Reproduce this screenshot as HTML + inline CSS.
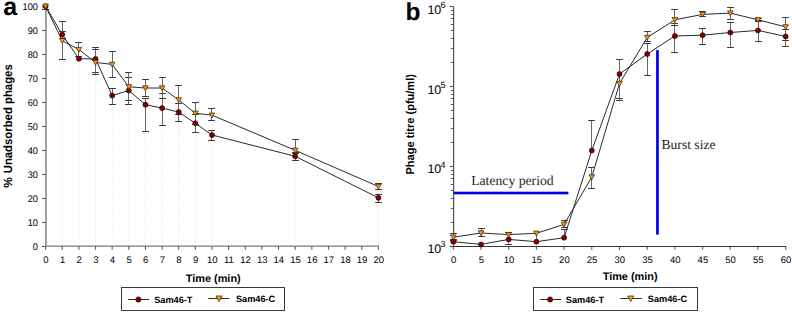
<!DOCTYPE html>
<html><head><meta charset="utf-8"><title>Phage adsorption and one-step growth</title>
<style>
html,body{margin:0;padding:0;background:#fff;}
body{width:792px;height:312px;overflow:hidden;font-family:"Liberation Sans", sans-serif;}
svg{display:block;text-rendering:geometricPrecision;}
</style></head>
<body>
<svg width="792" height="312" viewBox="0 0 792 312">
<rect width="792" height="312" fill="#ffffff"/>
<line x1="62.24" y1="37.6" x2="62.24" y2="246.2" stroke="#d4d4d4" stroke-width="0.8" stroke-dasharray="1,2.2"/>
<line x1="78.88" y1="52.6" x2="78.88" y2="246.2" stroke="#d4d4d4" stroke-width="0.8" stroke-dasharray="1,2.2"/>
<line x1="95.52" y1="61.9" x2="95.52" y2="246.2" stroke="#d4d4d4" stroke-width="0.8" stroke-dasharray="1,2.2"/>
<line x1="112.16" y1="67.4" x2="112.16" y2="246.2" stroke="#d4d4d4" stroke-width="0.8" stroke-dasharray="1,2.2"/>
<line x1="128.8" y1="89.8" x2="128.8" y2="246.2" stroke="#d4d4d4" stroke-width="0.8" stroke-dasharray="1,2.2"/>
<line x1="145.44" y1="91" x2="145.44" y2="246.2" stroke="#d4d4d4" stroke-width="0.8" stroke-dasharray="1,2.2"/>
<line x1="162.08" y1="91" x2="162.08" y2="246.2" stroke="#d4d4d4" stroke-width="0.8" stroke-dasharray="1,2.2"/>
<line x1="178.72" y1="103" x2="178.72" y2="246.2" stroke="#d4d4d4" stroke-width="0.8" stroke-dasharray="1,2.2"/>
<line x1="195.36" y1="116.3" x2="195.36" y2="246.2" stroke="#d4d4d4" stroke-width="0.8" stroke-dasharray="1,2.2"/>
<line x1="212" y1="118.2" x2="212" y2="246.2" stroke="#d4d4d4" stroke-width="0.8" stroke-dasharray="1,2.2"/>
<line x1="295.2" y1="153.3" x2="295.2" y2="246.2" stroke="#d4d4d4" stroke-width="0.8" stroke-dasharray="1,2.2"/>
<line x1="378.4" y1="189.5" x2="378.4" y2="246.2" stroke="#d4d4d4" stroke-width="0.8" stroke-dasharray="1,2.2"/>
<path d="M45.95,5.9 V246.15 H378.4" stroke="#7a7a7a" stroke-width="1.4" fill="none"/>
<line x1="42" y1="246.5" x2="45.6" y2="246.5" stroke="#5a5a5a" stroke-width="1.1"/>
<line x1="42" y1="222.5" x2="45.6" y2="222.5" stroke="#5a5a5a" stroke-width="1.1"/>
<line x1="42" y1="198.5" x2="45.6" y2="198.5" stroke="#5a5a5a" stroke-width="1.1"/>
<line x1="42" y1="174.5" x2="45.6" y2="174.5" stroke="#5a5a5a" stroke-width="1.1"/>
<line x1="42" y1="150.5" x2="45.6" y2="150.5" stroke="#5a5a5a" stroke-width="1.1"/>
<line x1="42" y1="126.5" x2="45.6" y2="126.5" stroke="#5a5a5a" stroke-width="1.1"/>
<line x1="42" y1="102.5" x2="45.6" y2="102.5" stroke="#5a5a5a" stroke-width="1.1"/>
<line x1="42" y1="78.5" x2="45.6" y2="78.5" stroke="#5a5a5a" stroke-width="1.1"/>
<line x1="42" y1="54.5" x2="45.6" y2="54.5" stroke="#5a5a5a" stroke-width="1.1"/>
<line x1="42" y1="30.5" x2="45.6" y2="30.5" stroke="#5a5a5a" stroke-width="1.1"/>
<line x1="42" y1="6.5" x2="45.6" y2="6.5" stroke="#5a5a5a" stroke-width="1.1"/>
<line x1="45.6" y1="246.2" x2="45.6" y2="249.7" stroke="#5a5a5a" stroke-width="1.1"/>
<line x1="62.24" y1="246.2" x2="62.24" y2="249.7" stroke="#5a5a5a" stroke-width="1.1"/>
<line x1="78.88" y1="246.2" x2="78.88" y2="249.7" stroke="#5a5a5a" stroke-width="1.1"/>
<line x1="95.52" y1="246.2" x2="95.52" y2="249.7" stroke="#5a5a5a" stroke-width="1.1"/>
<line x1="112.16" y1="246.2" x2="112.16" y2="249.7" stroke="#5a5a5a" stroke-width="1.1"/>
<line x1="128.8" y1="246.2" x2="128.8" y2="249.7" stroke="#5a5a5a" stroke-width="1.1"/>
<line x1="145.44" y1="246.2" x2="145.44" y2="249.7" stroke="#5a5a5a" stroke-width="1.1"/>
<line x1="162.08" y1="246.2" x2="162.08" y2="249.7" stroke="#5a5a5a" stroke-width="1.1"/>
<line x1="178.72" y1="246.2" x2="178.72" y2="249.7" stroke="#5a5a5a" stroke-width="1.1"/>
<line x1="195.36" y1="246.2" x2="195.36" y2="249.7" stroke="#5a5a5a" stroke-width="1.1"/>
<line x1="212" y1="246.2" x2="212" y2="249.7" stroke="#5a5a5a" stroke-width="1.1"/>
<line x1="228.64" y1="246.2" x2="228.64" y2="249.7" stroke="#5a5a5a" stroke-width="1.1"/>
<line x1="245.28" y1="246.2" x2="245.28" y2="249.7" stroke="#5a5a5a" stroke-width="1.1"/>
<line x1="261.92" y1="246.2" x2="261.92" y2="249.7" stroke="#5a5a5a" stroke-width="1.1"/>
<line x1="278.56" y1="246.2" x2="278.56" y2="249.7" stroke="#5a5a5a" stroke-width="1.1"/>
<line x1="295.2" y1="246.2" x2="295.2" y2="249.7" stroke="#5a5a5a" stroke-width="1.1"/>
<line x1="311.84" y1="246.2" x2="311.84" y2="249.7" stroke="#5a5a5a" stroke-width="1.1"/>
<line x1="328.48" y1="246.2" x2="328.48" y2="249.7" stroke="#5a5a5a" stroke-width="1.1"/>
<line x1="345.12" y1="246.2" x2="345.12" y2="249.7" stroke="#5a5a5a" stroke-width="1.1"/>
<line x1="361.76" y1="246.2" x2="361.76" y2="249.7" stroke="#5a5a5a" stroke-width="1.1"/>
<line x1="378.4" y1="246.2" x2="378.4" y2="249.7" stroke="#5a5a5a" stroke-width="1.1"/>
<g font-family='"Liberation Sans", sans-serif' font-size="9.2" fill="#000000"><text transform="translate(37.9,249.65) scale(0.95,1)" font-size="9.7" text-anchor="end">0</text>
<text transform="translate(37.9,225.67) scale(0.95,1)" font-size="9.7" text-anchor="end">10</text>
<text transform="translate(37.9,201.69) scale(0.95,1)" font-size="9.7" text-anchor="end">20</text>
<text transform="translate(37.9,177.71) scale(0.95,1)" font-size="9.7" text-anchor="end">30</text>
<text transform="translate(37.9,153.73) scale(0.95,1)" font-size="9.7" text-anchor="end">40</text>
<text transform="translate(37.9,129.75) scale(0.95,1)" font-size="9.7" text-anchor="end">50</text>
<text transform="translate(37.9,105.77) scale(0.95,1)" font-size="9.7" text-anchor="end">60</text>
<text transform="translate(37.9,81.79) scale(0.95,1)" font-size="9.7" text-anchor="end">70</text>
<text transform="translate(37.9,57.81) scale(0.95,1)" font-size="9.7" text-anchor="end">80</text>
<text transform="translate(37.9,33.83) scale(0.95,1)" font-size="9.7" text-anchor="end">90</text>
<text transform="translate(37.9,9.85) scale(0.95,1)" font-size="9.7" text-anchor="end">100</text>
<text x="45.9" y="263.2" text-anchor="middle" font-size="9.5">0</text>
<text x="62.54" y="263.2" text-anchor="middle" font-size="9.5">1</text>
<text x="79.18" y="263.2" text-anchor="middle" font-size="9.5">2</text>
<text x="95.82" y="263.2" text-anchor="middle" font-size="9.5">3</text>
<text x="112.46" y="263.2" text-anchor="middle" font-size="9.5">4</text>
<text x="129.1" y="263.2" text-anchor="middle" font-size="9.5">5</text>
<text x="145.74" y="263.2" text-anchor="middle" font-size="9.5">6</text>
<text x="162.38" y="263.2" text-anchor="middle" font-size="9.5">7</text>
<text x="179.02" y="263.2" text-anchor="middle" font-size="9.5">8</text>
<text x="195.66" y="263.2" text-anchor="middle" font-size="9.5">9</text>
<text x="212.3" y="263.2" text-anchor="middle" font-size="9.5">10</text>
<text x="228.94" y="263.2" text-anchor="middle" font-size="9.5">11</text>
<text x="245.58" y="263.2" text-anchor="middle" font-size="9.5">12</text>
<text x="262.22" y="263.2" text-anchor="middle" font-size="9.5">13</text>
<text x="278.86" y="263.2" text-anchor="middle" font-size="9.5">14</text>
<text x="295.5" y="263.2" text-anchor="middle" font-size="9.5">15</text>
<text x="312.14" y="263.2" text-anchor="middle" font-size="9.5">16</text>
<text x="328.78" y="263.2" text-anchor="middle" font-size="9.5">17</text>
<text x="345.42" y="263.2" text-anchor="middle" font-size="9.5">18</text>
<text x="362.06" y="263.2" text-anchor="middle" font-size="9.5">19</text>
<text x="378.7" y="263.2" text-anchor="middle" font-size="9.5">20</text></g>
<path d="M45.5,4.5 V9.5" stroke="#666666" stroke-width="1" fill="none"/><path d="M42.1,9.5 H48.9" stroke="#383838" stroke-width="1" fill="none"/>
<path d="M45.5,4.5 V9.5" stroke="#666666" stroke-width="1" fill="none"/><path d="M42.1,9.5 H48.9" stroke="#383838" stroke-width="1" fill="none"/>
<path d="M62.5,31.5 V38.5" stroke="#666666" stroke-width="1" fill="none"/><path d="M59.1,31.5 H65.9 M59.1,38.5 H65.9" stroke="#383838" stroke-width="1" fill="none"/>
<path d="M62.5,21.5 V59.5" stroke="#666666" stroke-width="1" fill="none"/><path d="M59.1,21.5 H65.9 M59.1,59.5 H65.9" stroke="#383838" stroke-width="1" fill="none"/>
<path d="M78.5,56.5 V60.5" stroke="#666666" stroke-width="1" fill="none"/>
<path d="M78.5,42.5 V56.5" stroke="#666666" stroke-width="1" fill="none"/><path d="M75.1,42.5 H81.9 M75.1,56.5 H81.9" stroke="#383838" stroke-width="1" fill="none"/>
<path d="M95.5,47.5 V72.5" stroke="#666666" stroke-width="1" fill="none"/><path d="M92.1,47.5 H98.9 M92.1,72.5 H98.9" stroke="#383838" stroke-width="1" fill="none"/>
<path d="M95.5,49.5 V74.5" stroke="#666666" stroke-width="1" fill="none"/><path d="M92.1,49.5 H98.9 M92.1,74.5 H98.9" stroke="#383838" stroke-width="1" fill="none"/>
<path d="M112.5,88.5 V104.5" stroke="#666666" stroke-width="1" fill="none"/><path d="M109.1,88.5 H115.9 M109.1,104.5 H115.9" stroke="#383838" stroke-width="1" fill="none"/>
<path d="M112.5,51.5 V77.5" stroke="#666666" stroke-width="1" fill="none"/><path d="M109.1,51.5 H115.9 M109.1,77.5 H115.9" stroke="#383838" stroke-width="1" fill="none"/>
<path d="M128.5,77.5 V104.5" stroke="#666666" stroke-width="1" fill="none"/><path d="M125.1,77.5 H131.9 M125.1,104.5 H131.9" stroke="#383838" stroke-width="1" fill="none"/>
<path d="M128.5,72.5 V100.5" stroke="#666666" stroke-width="1" fill="none"/><path d="M125.1,72.5 H131.9 M125.1,100.5 H131.9" stroke="#383838" stroke-width="1" fill="none"/>
<path d="M145.5,98.5 V131.5" stroke="#666666" stroke-width="1" fill="none"/><path d="M142.1,98.5 H148.9 M142.1,131.5 H148.9" stroke="#383838" stroke-width="1" fill="none"/>
<path d="M145.5,79.5 V96.5" stroke="#666666" stroke-width="1" fill="none"/><path d="M142.1,79.5 H148.9 M142.1,96.5 H148.9" stroke="#383838" stroke-width="1" fill="none"/>
<path d="M162.5,93.5 V125.5" stroke="#666666" stroke-width="1" fill="none"/><path d="M159.1,93.5 H165.9 M159.1,125.5 H165.9" stroke="#383838" stroke-width="1" fill="none"/>
<path d="M162.5,77.5 V98.5" stroke="#666666" stroke-width="1" fill="none"/><path d="M159.1,77.5 H165.9 M159.1,98.5 H165.9" stroke="#383838" stroke-width="1" fill="none"/>
<path d="M178.5,103.5 V121.5" stroke="#666666" stroke-width="1" fill="none"/><path d="M175.1,103.5 H181.9 M175.1,121.5 H181.9" stroke="#383838" stroke-width="1" fill="none"/>
<path d="M178.5,85.5 V114.5" stroke="#666666" stroke-width="1" fill="none"/><path d="M175.1,85.5 H181.9 M175.1,114.5 H181.9" stroke="#383838" stroke-width="1" fill="none"/>
<path d="M195.5,114.5 V132.5" stroke="#666666" stroke-width="1" fill="none"/><path d="M192.1,114.5 H198.9 M192.1,132.5 H198.9" stroke="#383838" stroke-width="1" fill="none"/>
<path d="M195.5,102.5 V124.5" stroke="#666666" stroke-width="1" fill="none"/><path d="M192.1,102.5 H198.9 M192.1,124.5 H198.9" stroke="#383838" stroke-width="1" fill="none"/>
<path d="M211.5,130.5 V140.5" stroke="#666666" stroke-width="1" fill="none"/><path d="M208.1,130.5 H214.9 M208.1,140.5 H214.9" stroke="#383838" stroke-width="1" fill="none"/>
<path d="M211.5,108.5 V120.5" stroke="#666666" stroke-width="1" fill="none"/><path d="M208.1,108.5 H214.9 M208.1,120.5 H214.9" stroke="#383838" stroke-width="1" fill="none"/>
<path d="M295.5,152.5 V160.5" stroke="#666666" stroke-width="1" fill="none"/><path d="M292.1,152.5 H298.9 M292.1,160.5 H298.9" stroke="#383838" stroke-width="1" fill="none"/>
<path d="M295.5,139.5 V153.5" stroke="#666666" stroke-width="1" fill="none"/><path d="M292.1,139.5 H298.9 M292.1,153.5 H298.9" stroke="#383838" stroke-width="1" fill="none"/>
<path d="M378.5,194.5 V202.5" stroke="#666666" stroke-width="1" fill="none"/><path d="M375.1,194.5 H381.9 M375.1,202.5 H381.9" stroke="#383838" stroke-width="1" fill="none"/>
<path d="M378.5,183.5 V189.5" stroke="#666666" stroke-width="1" fill="none"/><path d="M375.1,183.5 H381.9 M375.1,189.5 H381.9" stroke="#383838" stroke-width="1" fill="none"/>
<path d="M45.6,6.3 L62.24,34.6 L78.88,58.7 L95.52,58.9 L112.16,95.6 L128.8,90.5 L145.44,104.7 L162.08,108.1 L178.72,112.1 L195.36,123.3 L212,135 L295.2,156.3 L378.4,197.8" stroke="#2a2a2a" stroke-width="1" fill="none"/>
<path d="M45.6,6.3 L62.24,40.6 L78.88,49.6 L95.52,62.4 L112.16,64.4 L128.8,86.8 L145.44,88 L162.08,88 L178.72,100 L195.36,113.3 L212,115.2 L295.2,150.3 L378.4,186.5" stroke="#2a2a2a" stroke-width="1" fill="none"/>
<circle cx="45.6" cy="6.3" r="2.5" fill="#820000" stroke="#2a0000" stroke-width="0.7"/>
<circle cx="62.24" cy="34.6" r="2.5" fill="#820000" stroke="#2a0000" stroke-width="0.7"/>
<circle cx="78.88" cy="58.7" r="2.5" fill="#820000" stroke="#2a0000" stroke-width="0.7"/>
<circle cx="95.52" cy="58.9" r="2.5" fill="#820000" stroke="#2a0000" stroke-width="0.7"/>
<circle cx="112.16" cy="95.6" r="2.5" fill="#820000" stroke="#2a0000" stroke-width="0.7"/>
<circle cx="128.8" cy="90.5" r="2.5" fill="#820000" stroke="#2a0000" stroke-width="0.7"/>
<circle cx="145.44" cy="104.7" r="2.5" fill="#820000" stroke="#2a0000" stroke-width="0.7"/>
<circle cx="162.08" cy="108.1" r="2.5" fill="#820000" stroke="#2a0000" stroke-width="0.7"/>
<circle cx="178.72" cy="112.1" r="2.5" fill="#820000" stroke="#2a0000" stroke-width="0.7"/>
<circle cx="195.36" cy="123.3" r="2.5" fill="#820000" stroke="#2a0000" stroke-width="0.7"/>
<circle cx="212" cy="135" r="2.5" fill="#820000" stroke="#2a0000" stroke-width="0.7"/>
<circle cx="295.2" cy="156.3" r="2.5" fill="#820000" stroke="#2a0000" stroke-width="0.7"/>
<circle cx="378.4" cy="197.8" r="2.5" fill="#820000" stroke="#2a0000" stroke-width="0.7"/>
<path d="M42.8,4.09 L48.4,4.09 L45.6,9 Z" fill="#ff9410" stroke="#3a2000" stroke-width="0.7" stroke-linejoin="miter"/>
<path d="M59.44,38.4 L65.04,38.4 L62.24,43.3 Z" fill="#ff9410" stroke="#3a2000" stroke-width="0.7" stroke-linejoin="miter"/>
<path d="M76.08,47.4 L81.68,47.4 L78.88,52.3 Z" fill="#ff9410" stroke="#3a2000" stroke-width="0.7" stroke-linejoin="miter"/>
<path d="M92.72,60.2 L98.32,60.2 L95.52,65.09 Z" fill="#ff9410" stroke="#3a2000" stroke-width="0.7" stroke-linejoin="miter"/>
<path d="M109.36,62.2 L114.96,62.2 L112.16,67.09 Z" fill="#ff9410" stroke="#3a2000" stroke-width="0.7" stroke-linejoin="miter"/>
<path d="M126,84.59 L131.6,84.59 L128.8,89.5 Z" fill="#ff9410" stroke="#3a2000" stroke-width="0.7" stroke-linejoin="miter"/>
<path d="M142.64,85.8 L148.24,85.8 L145.44,90.69 Z" fill="#ff9410" stroke="#3a2000" stroke-width="0.7" stroke-linejoin="miter"/>
<path d="M159.28,85.8 L164.88,85.8 L162.08,90.69 Z" fill="#ff9410" stroke="#3a2000" stroke-width="0.7" stroke-linejoin="miter"/>
<path d="M175.92,97.8 L181.52,97.8 L178.72,102.69 Z" fill="#ff9410" stroke="#3a2000" stroke-width="0.7" stroke-linejoin="miter"/>
<path d="M192.56,111.09 L198.16,111.09 L195.36,116 Z" fill="#ff9410" stroke="#3a2000" stroke-width="0.7" stroke-linejoin="miter"/>
<path d="M209.2,113 L214.8,113 L212,117.9 Z" fill="#ff9410" stroke="#3a2000" stroke-width="0.7" stroke-linejoin="miter"/>
<path d="M292.4,148.09 L298,148.09 L295.2,153 Z" fill="#ff9410" stroke="#3a2000" stroke-width="0.7" stroke-linejoin="miter"/>
<path d="M375.6,184.29 L381.2,184.29 L378.4,189.19 Z" fill="#ff9410" stroke="#3a2000" stroke-width="0.7" stroke-linejoin="miter"/>
<path d="M453.6,6.2 V246.5" stroke="#505050" stroke-width="1.2" fill="none"/>
<path d="M453,246.5 H786.2" stroke="#363636" stroke-width="1" fill="none"/>
<line x1="449.6" y1="246.5" x2="453.3" y2="246.5" stroke="#5a5a5a" stroke-width="1.1"/>
<line x1="450.7" y1="222.5" x2="453.3" y2="222.5" stroke="#5a5a5a" stroke-width="1"/>
<line x1="450.7" y1="208.5" x2="453.3" y2="208.5" stroke="#5a5a5a" stroke-width="1"/>
<line x1="450.7" y1="198.5" x2="453.3" y2="198.5" stroke="#5a5a5a" stroke-width="1"/>
<line x1="450.7" y1="190.5" x2="453.3" y2="190.5" stroke="#5a5a5a" stroke-width="1"/>
<line x1="450.7" y1="184.5" x2="453.3" y2="184.5" stroke="#5a5a5a" stroke-width="1"/>
<line x1="450.7" y1="178.5" x2="453.3" y2="178.5" stroke="#5a5a5a" stroke-width="1"/>
<line x1="450.7" y1="174.5" x2="453.3" y2="174.5" stroke="#5a5a5a" stroke-width="1"/>
<line x1="450.7" y1="170.5" x2="453.3" y2="170.5" stroke="#5a5a5a" stroke-width="1"/>
<line x1="449.6" y1="166.5" x2="453.3" y2="166.5" stroke="#5a5a5a" stroke-width="1.1"/>
<line x1="450.7" y1="142.5" x2="453.3" y2="142.5" stroke="#5a5a5a" stroke-width="1"/>
<line x1="450.7" y1="128.5" x2="453.3" y2="128.5" stroke="#5a5a5a" stroke-width="1"/>
<line x1="450.7" y1="118.5" x2="453.3" y2="118.5" stroke="#5a5a5a" stroke-width="1"/>
<line x1="450.7" y1="110.5" x2="453.3" y2="110.5" stroke="#5a5a5a" stroke-width="1"/>
<line x1="450.7" y1="104.5" x2="453.3" y2="104.5" stroke="#5a5a5a" stroke-width="1"/>
<line x1="450.7" y1="98.5" x2="453.3" y2="98.5" stroke="#5a5a5a" stroke-width="1"/>
<line x1="450.7" y1="94.5" x2="453.3" y2="94.5" stroke="#5a5a5a" stroke-width="1"/>
<line x1="450.7" y1="90.5" x2="453.3" y2="90.5" stroke="#5a5a5a" stroke-width="1"/>
<line x1="449.6" y1="86.5" x2="453.3" y2="86.5" stroke="#5a5a5a" stroke-width="1.1"/>
<line x1="450.7" y1="62.5" x2="453.3" y2="62.5" stroke="#5a5a5a" stroke-width="1"/>
<line x1="450.7" y1="48.5" x2="453.3" y2="48.5" stroke="#5a5a5a" stroke-width="1"/>
<line x1="450.7" y1="38.5" x2="453.3" y2="38.5" stroke="#5a5a5a" stroke-width="1"/>
<line x1="450.7" y1="30.5" x2="453.3" y2="30.5" stroke="#5a5a5a" stroke-width="1"/>
<line x1="450.7" y1="24.5" x2="453.3" y2="24.5" stroke="#5a5a5a" stroke-width="1"/>
<line x1="450.7" y1="18.5" x2="453.3" y2="18.5" stroke="#5a5a5a" stroke-width="1"/>
<line x1="450.7" y1="14.5" x2="453.3" y2="14.5" stroke="#5a5a5a" stroke-width="1"/>
<line x1="450.7" y1="10.5" x2="453.3" y2="10.5" stroke="#5a5a5a" stroke-width="1"/>
<line x1="449.6" y1="6.5" x2="453.3" y2="6.5" stroke="#5a5a5a" stroke-width="1.1"/>
<line x1="453.3" y1="246.5" x2="453.3" y2="249.8" stroke="#5a5a5a" stroke-width="1.1"/>
<line x1="481" y1="246.5" x2="481" y2="249.8" stroke="#5a5a5a" stroke-width="1.1"/>
<line x1="508.7" y1="246.5" x2="508.7" y2="249.8" stroke="#5a5a5a" stroke-width="1.1"/>
<line x1="536.4" y1="246.5" x2="536.4" y2="249.8" stroke="#5a5a5a" stroke-width="1.1"/>
<line x1="564.1" y1="246.5" x2="564.1" y2="249.8" stroke="#5a5a5a" stroke-width="1.1"/>
<line x1="591.8" y1="246.5" x2="591.8" y2="249.8" stroke="#5a5a5a" stroke-width="1.1"/>
<line x1="619.5" y1="246.5" x2="619.5" y2="249.8" stroke="#5a5a5a" stroke-width="1.1"/>
<line x1="647.2" y1="246.5" x2="647.2" y2="249.8" stroke="#5a5a5a" stroke-width="1.1"/>
<line x1="674.9" y1="246.5" x2="674.9" y2="249.8" stroke="#5a5a5a" stroke-width="1.1"/>
<line x1="702.6" y1="246.5" x2="702.6" y2="249.8" stroke="#5a5a5a" stroke-width="1.1"/>
<line x1="730.3" y1="246.5" x2="730.3" y2="249.8" stroke="#5a5a5a" stroke-width="1.1"/>
<line x1="758" y1="246.5" x2="758" y2="249.8" stroke="#5a5a5a" stroke-width="1.1"/>
<line x1="785.7" y1="246.5" x2="785.7" y2="249.8" stroke="#5a5a5a" stroke-width="1.1"/>
<g font-family='"Liberation Sans", sans-serif' font-size="9.2" fill="#000000"><text x="453.6" y="263.2" text-anchor="middle" font-size="9.5">0</text>
<text x="481.3" y="263.2" text-anchor="middle" font-size="9.5">5</text>
<text x="509" y="263.2" text-anchor="middle" font-size="9.5">10</text>
<text x="536.7" y="263.2" text-anchor="middle" font-size="9.5">15</text>
<text x="564.4" y="263.2" text-anchor="middle" font-size="9.5">20</text>
<text x="592.1" y="263.2" text-anchor="middle" font-size="9.5">25</text>
<text x="619.8" y="263.2" text-anchor="middle" font-size="9.5">30</text>
<text x="647.5" y="263.2" text-anchor="middle" font-size="9.5">35</text>
<text x="675.2" y="263.2" text-anchor="middle" font-size="9.5">40</text>
<text x="702.9" y="263.2" text-anchor="middle" font-size="9.5">45</text>
<text x="730.6" y="263.2" text-anchor="middle" font-size="9.5">50</text>
<text x="758.3" y="263.2" text-anchor="middle" font-size="9.5">55</text>
<text x="786" y="263.2" text-anchor="middle" font-size="9.5">60</text></g>
<g font-family='"Liberation Sans", sans-serif' fill="#000000"><text x="427.4" y="14.2" font-size="12.5">10</text>
<text x="440.6" y="8.4" font-size="9">6</text>
<text x="427.4" y="93.5" font-size="12.5">10</text>
<text x="440.6" y="87.8" font-size="9">5</text>
<text x="427.4" y="173.1" font-size="12.5">10</text>
<text x="440.6" y="167.6" font-size="9">4</text>
<text x="427.4" y="252.5" font-size="12.5">10</text>
<text x="440.6" y="247.3" font-size="9">3</text></g>
<rect x="453.8" y="191.7" width="114.6" height="2.6" fill="#0000e6"/>
<rect x="656.1" y="50.1" width="2.7" height="184.5" fill="#0000e6"/>
<text x="471.2" y="185" font-family='"Liberation Serif", serif' font-size="13.7" fill="#1e1e1e">Latency period</text>
<text x="661.5" y="149.2" font-family='"Liberation Serif", serif' font-size="13.6" fill="#1e1e1e">Burst size</text>
<path d="M453.5,239.5 V246.5" stroke="#666666" stroke-width="1" fill="none"/><path d="M450.1,239.5 H456.9 M450.1,246.5 H456.9" stroke="#383838" stroke-width="1" fill="none"/>
<path d="M453.5,233.5 V240.5" stroke="#666666" stroke-width="1" fill="none"/><path d="M450.1,233.5 H456.9 M450.1,240.5 H456.9" stroke="#383838" stroke-width="1" fill="none"/>
<path d="M481.5,244.5 V244.5" stroke="#666666" stroke-width="1" fill="none"/>
<path d="M481.5,228.5 V236.5" stroke="#666666" stroke-width="1" fill="none"/><path d="M478.1,228.5 H484.9 M478.1,236.5 H484.9" stroke="#383838" stroke-width="1" fill="none"/>
<path d="M508.5,237.5 V244.5" stroke="#666666" stroke-width="1" fill="none"/><path d="M505.1,244.5 H511.9" stroke="#383838" stroke-width="1" fill="none"/>
<path d="M508.5,232.5 V236.5" stroke="#666666" stroke-width="1" fill="none"/><path d="M505.1,232.5 H511.9" stroke="#383838" stroke-width="1" fill="none"/>
<path d="M536.5,241.5 V241.5" stroke="#666666" stroke-width="1" fill="none"/>
<path d="M536.5,233.5 V240.5" stroke="#666666" stroke-width="1" fill="none"/>
<path d="M564.5,229.5 V237.5" stroke="#666666" stroke-width="1" fill="none"/><path d="M561.1,229.5 H567.9" stroke="#383838" stroke-width="1" fill="none"/>
<path d="M564.5,220.5 V227.5" stroke="#666666" stroke-width="1" fill="none"/><path d="M561.1,220.5 H567.9 M561.1,227.5 H567.9" stroke="#383838" stroke-width="1" fill="none"/>
<path d="M591.5,120.5 V150.5" stroke="#666666" stroke-width="1" fill="none"/><path d="M588.1,120.5 H594.9" stroke="#383838" stroke-width="1" fill="none"/>
<path d="M591.5,167.5 V188.5" stroke="#666666" stroke-width="1" fill="none"/><path d="M588.1,167.5 H594.9 M588.1,188.5 H594.9" stroke="#383838" stroke-width="1" fill="none"/>
<path d="M619.5,59.5 V98.5" stroke="#666666" stroke-width="1" fill="none"/><path d="M616.1,59.5 H622.9 M616.1,98.5 H622.9" stroke="#383838" stroke-width="1" fill="none"/>
<path d="M619.5,80.5 V100.5" stroke="#666666" stroke-width="1" fill="none"/><path d="M616.1,100.5 H622.9" stroke="#383838" stroke-width="1" fill="none"/>
<path d="M647.5,43.5 V75.5" stroke="#666666" stroke-width="1" fill="none"/><path d="M644.1,43.5 H650.9 M644.1,75.5 H650.9" stroke="#383838" stroke-width="1" fill="none"/>
<path d="M647.5,31.5 V41.5" stroke="#666666" stroke-width="1" fill="none"/><path d="M644.1,31.5 H650.9 M644.1,41.5 H650.9" stroke="#383838" stroke-width="1" fill="none"/>
<path d="M674.5,23.5 V52.5" stroke="#666666" stroke-width="1" fill="none"/><path d="M671.1,23.5 H677.9 M671.1,52.5 H677.9" stroke="#383838" stroke-width="1" fill="none"/>
<path d="M674.5,9.5 V25.5" stroke="#666666" stroke-width="1" fill="none"/><path d="M671.1,9.5 H677.9 M671.1,25.5 H677.9" stroke="#383838" stroke-width="1" fill="none"/>
<path d="M702.5,28.5 V44.5" stroke="#666666" stroke-width="1" fill="none"/><path d="M699.1,28.5 H705.9 M699.1,44.5 H705.9" stroke="#383838" stroke-width="1" fill="none"/>
<path d="M702.5,11.5 V16.5" stroke="#666666" stroke-width="1" fill="none"/><path d="M699.1,11.5 H705.9 M699.1,16.5 H705.9" stroke="#383838" stroke-width="1" fill="none"/>
<path d="M730.5,22.5 V47.5" stroke="#666666" stroke-width="1" fill="none"/><path d="M727.1,22.5 H733.9 M727.1,47.5 H733.9" stroke="#383838" stroke-width="1" fill="none"/>
<path d="M730.5,7.5 V19.5" stroke="#666666" stroke-width="1" fill="none"/><path d="M727.1,7.5 H733.9 M727.1,19.5 H733.9" stroke="#383838" stroke-width="1" fill="none"/>
<path d="M758.5,20.5 V41.5" stroke="#666666" stroke-width="1" fill="none"/><path d="M755.1,20.5 H761.9 M755.1,41.5 H761.9" stroke="#383838" stroke-width="1" fill="none"/>
<path d="M758.5,18.5 V21.5" stroke="#666666" stroke-width="1" fill="none"/><path d="M755.1,18.5 H761.9 M755.1,21.5 H761.9" stroke="#383838" stroke-width="1" fill="none"/>
<path d="M785.5,29.5 V46.5" stroke="#666666" stroke-width="1" fill="none"/><path d="M782.1,29.5 H788.9 M782.1,46.5 H788.9" stroke="#383838" stroke-width="1" fill="none"/>
<path d="M785.5,17.5 V40.5" stroke="#666666" stroke-width="1" fill="none"/><path d="M782.1,17.5 H788.9 M782.1,40.5 H788.9" stroke="#383838" stroke-width="1" fill="none"/>
<path d="M453.3,241.7 L481,244.4 L508.7,239.4 L536.4,241.7 L564.1,237.7 L591.8,150.5 L619.5,74 L647.2,54 L674.9,36 L702.6,35.2 L730.3,32.5 L758,30.4 L785.7,36.5" stroke="#2a2a2a" stroke-width="1" fill="none"/>
<path d="M453.3,237.2 L481,233 L508.7,234.6 L536.4,233.3 L564.1,224.4 L591.8,177 L619.5,83.5 L647.2,37.5 L674.9,19.8 L702.6,14.4 L730.3,13.1 L758,19.8 L785.7,26.9" stroke="#2a2a2a" stroke-width="1" fill="none"/>
<circle cx="453.3" cy="241.7" r="2.5" fill="#820000" stroke="#2a0000" stroke-width="0.7"/>
<circle cx="481" cy="244.4" r="2.5" fill="#820000" stroke="#2a0000" stroke-width="0.7"/>
<circle cx="508.7" cy="239.4" r="2.5" fill="#820000" stroke="#2a0000" stroke-width="0.7"/>
<circle cx="536.4" cy="241.7" r="2.5" fill="#820000" stroke="#2a0000" stroke-width="0.7"/>
<circle cx="564.1" cy="237.7" r="2.5" fill="#820000" stroke="#2a0000" stroke-width="0.7"/>
<circle cx="591.8" cy="150.5" r="2.5" fill="#820000" stroke="#2a0000" stroke-width="0.7"/>
<circle cx="619.5" cy="74" r="2.5" fill="#820000" stroke="#2a0000" stroke-width="0.7"/>
<circle cx="647.2" cy="54" r="2.5" fill="#820000" stroke="#2a0000" stroke-width="0.7"/>
<circle cx="674.9" cy="36" r="2.5" fill="#820000" stroke="#2a0000" stroke-width="0.7"/>
<circle cx="702.6" cy="35.2" r="2.5" fill="#820000" stroke="#2a0000" stroke-width="0.7"/>
<circle cx="730.3" cy="32.5" r="2.5" fill="#820000" stroke="#2a0000" stroke-width="0.7"/>
<circle cx="758" cy="30.4" r="2.5" fill="#820000" stroke="#2a0000" stroke-width="0.7"/>
<circle cx="785.7" cy="36.5" r="2.5" fill="#820000" stroke="#2a0000" stroke-width="0.7"/>
<path d="M450.5,234.99 L456.1,234.99 L453.3,239.89 Z" fill="#ff9410" stroke="#3a2000" stroke-width="0.7" stroke-linejoin="miter"/>
<path d="M478.2,230.79 L483.8,230.79 L481,235.69 Z" fill="#ff9410" stroke="#3a2000" stroke-width="0.7" stroke-linejoin="miter"/>
<path d="M505.9,232.39 L511.5,232.39 L508.7,237.29 Z" fill="#ff9410" stroke="#3a2000" stroke-width="0.7" stroke-linejoin="miter"/>
<path d="M533.6,231.09 L539.2,231.09 L536.4,236 Z" fill="#ff9410" stroke="#3a2000" stroke-width="0.7" stroke-linejoin="miter"/>
<path d="M561.3,222.19 L566.9,222.19 L564.1,227.09 Z" fill="#ff9410" stroke="#3a2000" stroke-width="0.7" stroke-linejoin="miter"/>
<path d="M589,174.79 L594.6,174.79 L591.8,179.69 Z" fill="#ff9410" stroke="#3a2000" stroke-width="0.7" stroke-linejoin="miter"/>
<path d="M616.7,81.3 L622.3,81.3 L619.5,86.19 Z" fill="#ff9410" stroke="#3a2000" stroke-width="0.7" stroke-linejoin="miter"/>
<path d="M644.4,35.3 L650,35.3 L647.2,40.2 Z" fill="#ff9410" stroke="#3a2000" stroke-width="0.7" stroke-linejoin="miter"/>
<path d="M672.1,17.59 L677.7,17.59 L674.9,22.5 Z" fill="#ff9410" stroke="#3a2000" stroke-width="0.7" stroke-linejoin="miter"/>
<path d="M699.8,12.2 L705.4,12.2 L702.6,17.09 Z" fill="#ff9410" stroke="#3a2000" stroke-width="0.7" stroke-linejoin="miter"/>
<path d="M727.5,10.89 L733.1,10.89 L730.3,15.79 Z" fill="#ff9410" stroke="#3a2000" stroke-width="0.7" stroke-linejoin="miter"/>
<path d="M755.2,17.59 L760.8,17.59 L758,22.5 Z" fill="#ff9410" stroke="#3a2000" stroke-width="0.7" stroke-linejoin="miter"/>
<path d="M782.9,24.7 L788.5,24.7 L785.7,29.59 Z" fill="#ff9410" stroke="#3a2000" stroke-width="0.7" stroke-linejoin="miter"/>
<text x="185.8" y="281.7" font-family='"Liberation Sans", sans-serif' font-weight="bold" font-size="10.9" fill="#000000">Time (min)</text>
<text x="602.7" y="279.8" font-family='"Liberation Sans", sans-serif' font-weight="bold" font-size="10.9" fill="#000000">Time (min)</text>
<text transform="translate(12.3,187.7) rotate(-90)" font-family='"Liberation Sans", sans-serif' font-weight="bold" font-size="12" fill="#000000">%</text>
<text transform="translate(12.3,173.3) rotate(-90)" font-family='"Liberation Sans", sans-serif' font-weight="bold" font-size="12" fill="#000000" textLength="109" lengthAdjust="spacingAndGlyphs">Unadsorbed phages</text>
<text transform="translate(413.6,174.5) rotate(-90)" font-family='"Liberation Sans", sans-serif' font-weight="bold" font-size="11.5" fill="#000000" textLength="100.4" lengthAdjust="spacingAndGlyphs">Phage titre (pfu/ml)</text>
<text x="3.2" y="14.8" font-family='"Liberation Sans", sans-serif' font-weight="bold" font-size="25" fill="#000">a</text>
<text x="405.6" y="19.6" font-family='"Liberation Sans", sans-serif' font-weight="bold" font-size="24.5" fill="#000">b</text>
<rect x="121.5" y="287.5" width="163" height="23" fill="#fff" stroke="#3a3a3a" stroke-width="1"/>
<line x1="128" y1="299.5" x2="149.1" y2="299.5" stroke="#2a2a2a" stroke-width="1"/>
<circle cx="138.4" cy="299.5" r="2.6" fill="#820000" stroke="#2a0000" stroke-width="0.7"/>
<line x1="208.3" y1="298.5" x2="229.4" y2="298.5" stroke="#2a2a2a" stroke-width="1"/>
<path d="M215.9,295.98 L222.1,295.98 L219,301.58 Z" fill="#ff9410" stroke="#3a2000" stroke-width="0.7" stroke-linejoin="miter"/>
<text x="154.2" y="302.7" font-family='"Liberation Sans", sans-serif' font-weight="bold" font-size="9.2" fill="#000000">Sam46-T</text>
<text x="235.9" y="301.6" font-family='"Liberation Sans", sans-serif' font-weight="bold" font-size="9.2" fill="#000000">Sam46-C</text>
<rect x="533.5" y="287.5" width="164" height="23" fill="#fff" stroke="#3a3a3a" stroke-width="1"/>
<line x1="540.2" y1="299.5" x2="561.1" y2="299.5" stroke="#2a2a2a" stroke-width="1"/>
<circle cx="550.1" cy="299.5" r="2.6" fill="#820000" stroke="#2a0000" stroke-width="0.7"/>
<line x1="620.2" y1="298.5" x2="641.7" y2="298.5" stroke="#2a2a2a" stroke-width="1"/>
<path d="M627.6,295.98 L633.8,295.98 L630.7,301.58 Z" fill="#ff9410" stroke="#3a2000" stroke-width="0.7" stroke-linejoin="miter"/>
<text x="565.8" y="302.6" font-family='"Liberation Sans", sans-serif' font-weight="bold" font-size="9.2" fill="#000000">Sam46-T</text>
<text x="647.8" y="301.6" font-family='"Liberation Sans", sans-serif' font-weight="bold" font-size="9.2" fill="#000000">Sam46-C</text>
</svg>
</body></html>
